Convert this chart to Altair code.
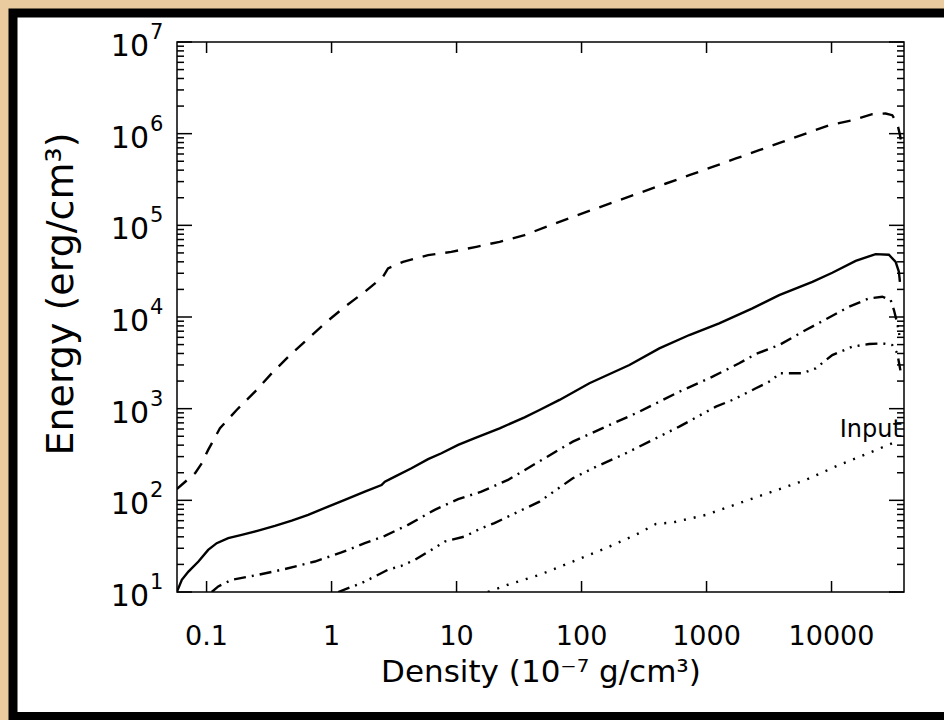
import altair as alt
import pandas as pd

# ---------------- data ----------------
x_domain = [0.058, 38000]
y_domain = [10, 1e7]

x_tick_values = [0.1, 1, 10, 100, 1000, 10000]
x_tick_labels = ["0.1", "1", "10", "100", "1000", "10000"]
y_exponents = [1, 2, 3, 4, 5, 6, 7]

dashed_x = [0.0578, 0.081, 0.0916, 0.103, 0.128, 0.174, 0.244, 0.332, 0.465, 0.631,
            0.884, 1.276, 1.845, 2.58, 2.83, 3.73, 5.92, 9.08, 14.4, 22.1,
            35.0, 53.7, 85.1, 131, 201, 308, 474, 728, 1117, 1718,
            2636, 4046, 6220, 9550, 14660, 21180, 27100, 30600, 33570, 35100, 35900]
dashed_y = [133, 198, 254, 355, 611, 968, 1531, 2432, 3848, 5610,
            8530, 12940, 18840, 27470, 33900, 40000, 47300, 51400, 58300, 66100,
            78200, 98000, 123800, 152800, 188200, 231800, 286000, 352000, 434000, 536000,
            660000, 813000, 1004000, 1236000, 1402000, 1630000, 1660000, 1590000, 1290000, 1000000, 849000]

solid_x = [0.0578, 0.0634, 0.0716, 0.0861, 0.103, 0.1206, 0.149, 0.191, 0.259, 0.352,
           0.480, 0.650, 0.939, 1.276, 1.845, 2.51, 2.67, 3.21, 4.36, 5.92,
           7.57, 10.3, 14.0, 22.1, 35.0, 46.1, 66.6, 115.6, 241.5, 419,
           728, 1262, 2328, 3811, 7030, 10140, 15600, 22540, 28770, 32580, 34600, 35240]
solid_y = [10, 13.6, 16.7, 21.5, 28.8, 34.1, 38.7, 42.0, 46.8, 52.7,
           60.1, 69.4, 85.5, 101, 124.5, 147, 160, 181.5, 224, 281,
           326, 402, 476, 611, 805, 968, 1245, 1892, 2994, 4550,
           6360, 8530, 12420, 17340, 24220, 30360, 41020, 48530, 47720, 40000, 31120, 24220]

dashdot_x = [0.110, 0.124, 0.159, 0.259, 0.424, 0.736, 1.20, 1.845, 2.67, 4.09,
             6.68, 10.3, 15.8, 25.8, 43.4, 85.1, 157, 290, 605, 1117,
             1824, 2482, 3811, 6220, 8990, 13800, 19950, 25470, 29720, 31570, 33570, 34910]
dashdot_y = [10, 11.5, 13.6, 15.4, 17.8, 21.5, 27.0, 34.1, 41.0, 54.0,
             78.7, 103, 124.5, 167, 254, 437, 637, 927, 1531, 2233,
             3126, 3947, 4946, 7210, 9420, 12940, 15960, 16630, 15300, 11910, 8530, 6360]

dash3dot_x = [1.13, 1.74, 2.83, 3.62, 4.62, 6.29, 8.04, 11.6, 15.8, 20.1,
              25.8, 46.1, 85.1, 131, 213, 348, 605, 1188, 1614, 2482,
              3365, 3811, 5850, 7480, 10140, 14660, 19950, 25470, 30600, 33570, 35730]
dash3dot_y = [10, 12.5, 17.5, 19.3, 22.4, 28.8, 35.5, 40.3, 49.7, 56.4,
              66.5, 96.9, 174, 233, 313, 437, 637, 1052, 1245, 1668,
              2056, 2432, 2432, 2754, 3848, 4742, 5070, 5160, 4946, 4018, 2529]

input_x = [17.8, 25.8, 46.1, 85.1, 157, 290, 394, 535, 989, 1824,
           3365, 6220, 11480, 21180, 30600, 33960]
input_y = [10, 12.0, 15.4, 21.5, 30.1, 43.9, 55.4, 57.2, 69.4, 93.1,
           124.5, 167, 243, 340, 420, 456]

input_label = "Input"
input_label_pos = (36500, 580)

x_title = "Density (10\u207b\u2077 g/cm\u00b3)"
y_title = "Energy (erg/cm\u00b3)"

# ---------------- layout / style ----------------
W, H = 727, 550
FONT = "DejaVu Sans"
xs = alt.Scale(type="log", domain=x_domain, nice=False)
ys = alt.Scale(type="log", domain=y_domain, nice=False)


def series_df(xv, yv):
    return pd.DataFrame({"x": xv, "y": yv, "i": list(range(len(xv)))})


one = pd.DataFrame({"a": [0]})

frame = alt.Chart(one).mark_rect(fill="white", stroke="black", strokeWidth=9).encode(
    x=alt.value(-164), x2=alt.value(790), y=alt.value(-29), y2=alt.value(674.5))


def line(xv, yv, dash):
    m = alt.Chart(series_df(xv, yv)).mark_line(
        color="black", strokeWidth=2.4, clip=True,
        **({"strokeDash": dash} if dash else {}))
    return m.encode(
        x=alt.X("x:Q", scale=xs, axis=None),
        y=alt.Y("y:Q", scale=ys, axis=None),
        order="i:Q")


solid = line(solid_x, solid_y, None)
dashed = line(dashed_x, dashed_y, [13, 10])
dashdot = line(dashdot_x, dashdot_y, [12, 6, 2, 6])
dash3 = line(dash3dot_x, dash3dot_y, [12, 6, 2, 6, 2, 6, 2, 6])
dotted = line(input_x, input_y, [2, 8])

y_major = pd.DataFrame({"v": [10.0 ** e for e in y_exponents]})
y_minor = pd.DataFrame({"v": [k * 10.0 ** e for e in y_exponents[:-1] for k in range(2, 10)]})
x_major = pd.DataFrame({"v": x_tick_values, "t": x_tick_labels})


def yrule(df, x0, x1):
    return alt.Chart(df).mark_rule(color="black", strokeWidth=1.5).encode(
        y=alt.Y("v:Q", scale=ys, axis=None), x=alt.value(x0), x2=alt.value(x1))


def xrule(df, y0, y1):
    return alt.Chart(df).mark_rule(color="black", strokeWidth=1.5).encode(
        x=alt.X("v:Q", scale=xs, axis=None), y=alt.value(y0), y2=alt.value(y1))


ticks = [yrule(y_major, 0, 15), yrule(y_major, W - 15, W),
         yrule(y_minor, 0, 7), yrule(y_minor, W - 7, W),
         xrule(x_major, H - 11, H), xrule(x_major, 0, 11)]

box = alt.Chart(one).mark_rect(fill="white", fillOpacity=0, stroke="black", strokeWidth=1.5).encode(
    x=alt.value(0), x2=alt.value(W), y=alt.value(0), y2=alt.value(H))

# tick labels
xlab = alt.Chart(x_major).mark_text(font=FONT, fontSize=27, align="center",
                                    baseline="middle", color="black").encode(
    x=alt.X("v:Q", scale=xs, axis=None), y=alt.value(H + 45), text="t:N")

ylab_df = pd.DataFrame({"v": [10.0 ** e for e in y_exponents],
                        "base": ["10"] * len(y_exponents),
                        "exp": [str(e) for e in y_exponents]})
ylab_base = alt.Chart(ylab_df).mark_text(font=FONT, fontSize=30, align="right",
                                         baseline="middle", dy=5, color="black").encode(
    y=alt.Y("v:Q", scale=ys, axis=None), x=alt.value(-28), text="base:N")
ylab_exp = alt.Chart(ylab_df).mark_text(font=FONT, fontSize=21, align="left",
                                        baseline="middle", dy=-9, color="black").encode(
    y=alt.Y("v:Q", scale=ys, axis=None), x=alt.value(-27), text="exp:N")

# axis titles
title_df = pd.DataFrame({"t": [x_title]})
xtitle = alt.Chart(title_df).mark_text(font=FONT, fontSize=31, align="center",
                                       baseline="middle", color="black").encode(
    x=alt.value(364), y=alt.value(631), text="t:N")
ytitle_df = pd.DataFrame({"t": [y_title]})
ytitle = alt.Chart(ytitle_df).mark_text(font=FONT, fontSize=38, align="center",
                                        baseline="middle", angle=270, color="black").encode(
    x=alt.value(-115), y=alt.value(252), text="t:N")

lab_df = pd.DataFrame({"x": [input_label_pos[0]], "y": [input_label_pos[1]], "t": [input_label]})
input_text = alt.Chart(lab_df).mark_text(font=FONT, fontSize=24, align="right",
                                         baseline="middle", color="black").encode(
    x=alt.X("x:Q", scale=xs, axis=None), y=alt.Y("y:Q", scale=ys, axis=None), text="t:N")

chart = alt.layer(frame, solid, dashed, dashdot, dash3, dotted, *ticks, box,
                  xlab, ylab_base, ylab_exp, xtitle, ytitle, input_text).properties(
    width=W, height=H,
    autosize=alt.AutoSizeParams(type="none"),
    padding={"left": 177, "top": 42, "right": 40, "bottom": 128},
    background="#eacb9f",
).configure_view(stroke=None)

chart.save("out.html", embed_options={"renderer": "svg", "actions": False})
